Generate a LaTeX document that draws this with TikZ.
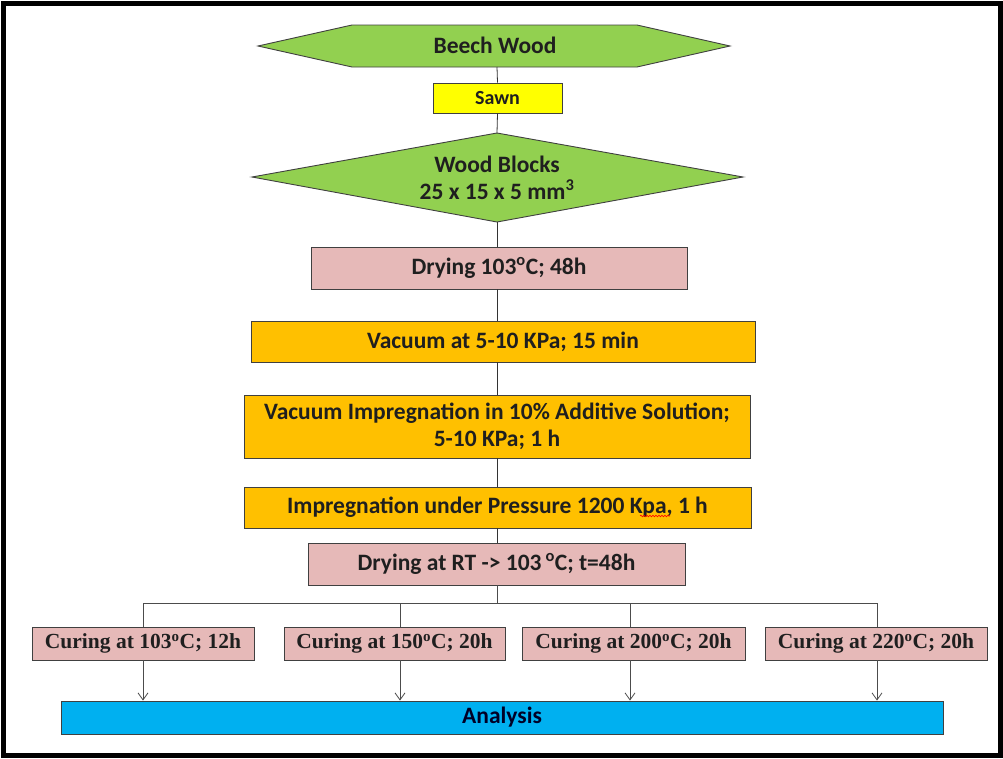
\documentclass[tikz,border=0pt]{standalone}
\usepackage{fontspec}
\setmainfont{Carlito}
\newfontfamily\serifb{Liberation Serif}
\usetikzlibrary{shapes.geometric,arrows.meta,decorations.pathmorphing}
\definecolor{grn}{HTML}{92D050}
\definecolor{ylw}{HTML}{FFFF00}
\definecolor{pnk}{HTML}{E6B9B8}
\definecolor{org}{HTML}{FFC000}
\definecolor{blu}{HTML}{00B0F0}
\definecolor{edge}{HTML}{404040}
\newcommand{\lowr}[2]{\raisebox{-#1}{#2}}
\tikzset{
  box/.style={draw=edge, line width=0.9pt, inner sep=0pt, align=center, font=\fontsize{23.5}{27}\selectfont\bfseries, text=black!88},
  cure/.style={box, fill=pnk, minimum width=222pt, minimum height=33pt, font=\serifb\fontsize{21.5}{25}\selectfont\bfseries},
  conn/.style={draw=black!80, line width=0.8pt},
  arr/.style={conn, -{Straight Barb[length=7pt,width=10pt,line width=0.8pt]}, draw=black!70}
}
\begin{document}
\begin{tikzpicture}[x=1pt,y=-1pt]
\useasboundingbox (0,0) rectangle (1003,758);
\draw[line width=5pt] (3,3.5) rectangle (1000.5,755.5);

% Beech Wood hexagon
\path[box, fill=grn] (258,46) -- (352,25) -- (637,25) -- (730,46) -- (637,67) -- (352,67) -- cycle;
\node[box, draw=none] (beech) at (495,45) {Beech Wood};
\coordinate (beechB) at (497,67);
\node[box, fill=ylw, minimum width=129pt, minimum height=30pt, font=\fontsize{20}{24}\selectfont\bfseries] (sawn) at (497.5,98) {Sawn};
% Wood blocks diamond
\path[box, fill=grn] (497,133) -- (743,177) -- (497,222) -- (252,177) -- cycle;
\coordinate (wbT) at (497,133);
\coordinate (wbB) at (497,222);
\node[box, draw=none] (wb) at (497,178) {Wood Blocks\\25 x 15 x 5 mm\textsuperscript{3}};

\node[box, fill=pnk, minimum width=376pt, minimum height=42pt] (dry1) at (499,268) {Drying 103\textsuperscript{o}C; 48h};
\node[box, fill=org, minimum width=504pt, minimum height=41pt] (vac) at (503,341.5) {Vacuum at 5-10 KPa; 15 min};
\node[box, fill=org, minimum width=506pt, minimum height=63pt] (vimp) at (497,426.5) {Vacuum Impregnation in 10\% Additive Solution;\\5-10 KPa; 1 h};
\node[box, fill=org, minimum width=507pt, minimum height=41pt] (imp) at (497.5,507.5) {Impregnation under Pressure 1200 Kpa, 1 h};
\node[box, fill=pnk, minimum width=377pt, minimum height=42pt] (dry2) at (496.5,564) {Drying at RT -> 103\,\textsuperscript{o}C; t=48h};
\draw[red, line width=0.6pt, decorate, decoration={snake, amplitude=0.8pt, segment length=3pt}] (640,516) -- (670,516);

\draw[conn] (beechB) -- (sawn.north);
\draw[conn] (sawn.south) -- (wbT);
\draw[conn] (wbB) -- (dry1.north -| wbB);
\draw[conn] (dry1.south -| wbB) -- (vac.north -| wbB);
\draw[conn] (vac.south -| wbB) -- (vimp.north -| wbB);
\draw[conn] (vimp.south -| wbB) -- (imp.north -| wbB);
\draw[conn] (imp.south -| wbB) -- (dry2.north -| wbB);

% curing
\node[cure] (c1) at (143,643.5) {\lowr{2pt}{Curing at 103\textsuperscript{o}C; 12h}};
\node[cure, minimum width=221pt] (c2) at (394.5,643.5) {\lowr{2pt}{Curing at 150\textsuperscript{o}C; 20h}};
\node[cure, minimum width=223pt] (c3) at (633.5,643.5) {\lowr{2pt}{Curing at 200\textsuperscript{o}C; 20h}};
\node[cure] (c4) at (876,643.5) {\lowr{2pt}{Curing at 220\textsuperscript{o}C; 20h}};
\node[box, fill=blu, minimum width=882pt, minimum height=33pt, text=black!85!blue] (an) at (502,717.5) {\lowr{3pt}{Analysis}};

\coordinate (bus) at (497,603);
\coordinate (b1) at (143,603);
\coordinate (b2) at (400,603);
\coordinate (b3) at (630,603);
\coordinate (b4) at (877,603);
\draw[conn, draw=black!70] (dry2.south -| bus) -- (bus);
\draw[conn, draw=black!70] (b1) -- (b4);
\draw[conn, draw=black!70] (b1) -- (b1 |- c1.north);
\draw[conn, draw=black!70] (b2) -- (b2 |- c2.north);
\draw[conn, draw=black!70] (b3) -- (b3 |- c3.north);
\draw[conn, draw=black!70] (b4) -- (b4 |- c4.north);
\draw[arr] (b1 |- c1.south) -- (b1 |- an.north);
\draw[arr] (b2 |- c2.south) -- (b2 |- an.north);
\draw[arr] (b3 |- c3.south) -- (b3 |- an.north);
\draw[arr] (b4 |- c4.south) -- (b4 |- an.north);
\end{tikzpicture}
\end{document}
